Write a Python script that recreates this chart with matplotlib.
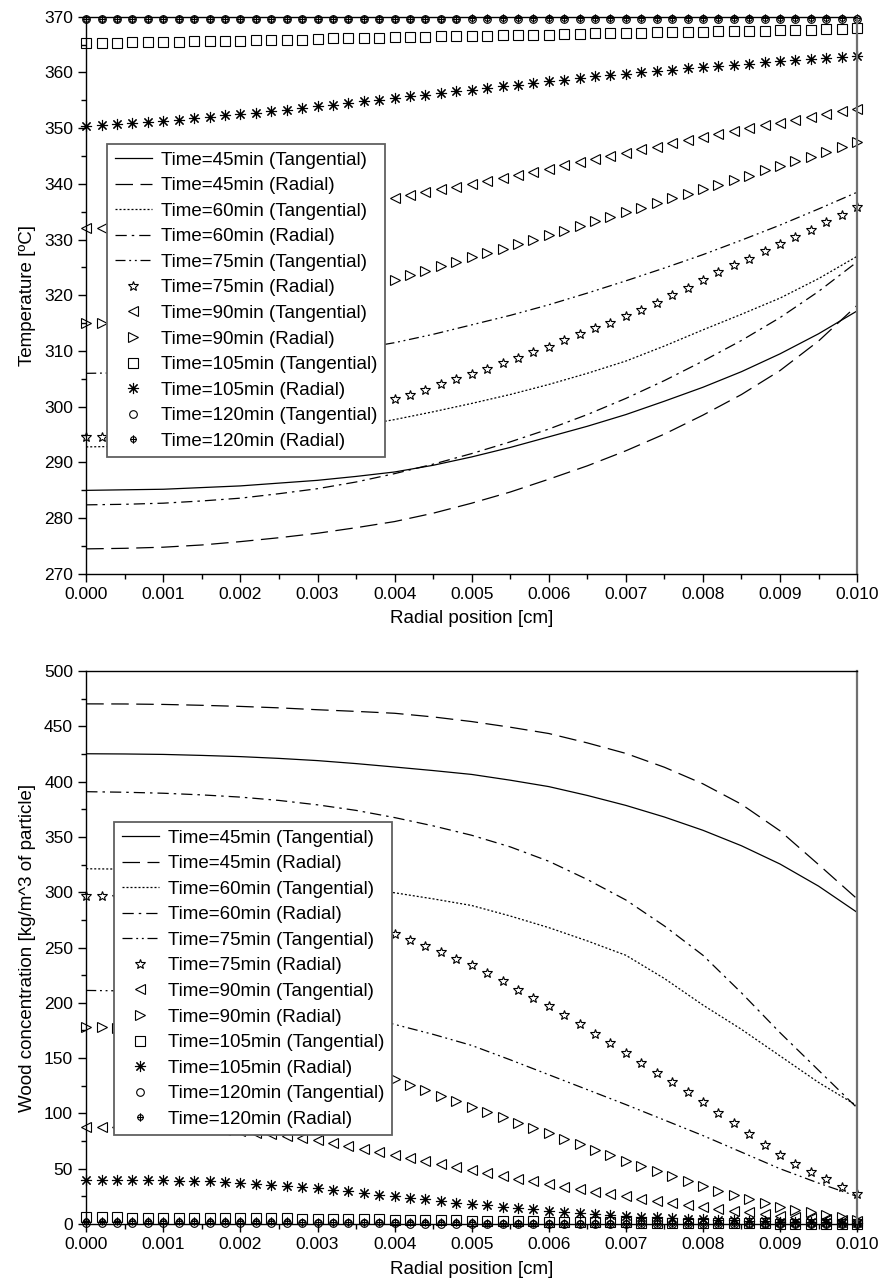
import numpy as np
import matplotlib
matplotlib.use("Agg")
import matplotlib.pyplot as plt
from matplotlib.path import Path
from matplotlib.ticker import MultipleLocator, FormatStrFormatter

plt.rcParams['font.family'] = ['Liberation Sans', 'DejaVu Sans']

# radial grid (cm): lines read every 0.0005, markers every 0.0002
x_line = np.linspace(0.0, 0.010, 21)
x_mark = np.linspace(0.0, 0.010, 51)

labels = ["Time=45min (Tangential)", "Time=45min (Radial)",
          "Time=60min (Tangential)", "Time=60min (Radial)",
          "Time=75min (Tangential)", "Time=75min (Radial)",
          "Time=90min (Tangential)", "Time=90min (Radial)",
          "Time=105min (Tangential)", "Time=105min (Radial)",
          "Time=120min (Tangential)", "Time=120min (Radial)"]

# ---------------- temperature [C] ----------------
T45t = [285.0, 285.1, 285.2, 285.5, 285.8, 286.3, 286.8, 287.5, 288.3, 289.5, 291.0,
        292.7, 294.6, 296.5, 298.6, 301.0, 303.5, 306.3, 309.5, 313.1, 317.2]
T45r = [274.5, 274.6, 274.8, 275.2, 275.8, 276.5, 277.3, 278.3, 279.4, 280.9, 282.7,
        284.7, 287.0, 289.4, 292.1, 295.1, 298.5, 302.2, 306.5, 311.8, 318.2]
T60t = [292.8, 292.9, 293.1, 293.5, 294.0, 294.7, 295.5, 296.5, 297.7, 299.1, 300.6,
        302.2, 304.0, 306.0, 308.2, 310.9, 313.8, 316.6, 319.5, 323.0, 327.0]
T60r = [282.4, 282.5, 282.7, 283.1, 283.6, 284.4, 285.3, 286.5, 288.0, 289.7, 291.6,
        293.7, 296.0, 298.6, 301.5, 304.7, 308.2, 311.9, 316.0, 320.7, 326.0]
T75t = [306.0, 306.1, 306.4, 306.9, 307.6, 308.4, 309.3, 310.3, 311.5, 313.0, 314.7,
        316.4, 318.3, 320.4, 322.6, 324.9, 327.3, 329.9, 332.6, 335.5, 338.5]
T75r = [294.6, 294.6, 294.7, 294.8, 294.9, 295.0, 295.2, 295.5, 295.8, 296.1, 296.4,
        296.8, 297.2, 297.6, 298.0, 298.4, 298.9, 299.5, 300.2, 300.8, 301.4,
        302.2, 303.0, 304.0, 304.9, 305.8, 306.8, 307.8, 308.8, 309.8, 310.8,
        311.9, 313.0, 314.1, 315.1, 316.2, 317.4, 318.7, 320.0, 321.4, 322.8,
        324.1, 325.4, 326.6, 327.9, 329.2, 330.5, 331.8, 333.2, 334.5, 335.8]
T90t = [332.0, 332.0, 332.1, 332.2, 332.3, 332.4, 332.6, 332.8, 333.0, 333.2, 333.4,
        333.7, 334.0, 334.4, 334.7, 335.1, 335.5, 336.0, 336.5, 337.0, 337.5,
        338.0, 338.5, 339.0, 339.5, 340.0, 340.5, 341.1, 341.6, 342.2, 342.7,
        343.3, 343.9, 344.4, 345.0, 345.6, 346.2, 346.7, 347.3, 347.8, 348.4,
        348.9, 349.5, 350.0, 350.5, 351.0, 351.5, 352.0, 352.5, 353.0, 353.5]
T90r = [315.1, 315.1, 315.2, 315.3, 315.4, 315.6, 315.8, 316.1, 316.4, 316.7, 317.0,
        317.4, 317.8, 318.3, 318.8, 319.3, 319.9, 320.6, 321.3, 322.0, 322.8,
        323.6, 324.4, 325.2, 326.0, 326.8, 327.6, 328.4, 329.2, 330.0, 330.8,
        331.6, 332.4, 333.3, 334.1, 334.9, 335.7, 336.5, 337.4, 338.2, 339.0,
        339.8, 340.7, 341.5, 342.4, 343.2, 344.1, 344.9, 345.8, 346.6, 347.5]
T105t = [365.2, 365.3, 365.3, 365.4, 365.4, 365.5, 365.5, 365.6, 365.6, 365.7, 365.7,
         365.8, 365.8, 365.9, 365.9, 366.0, 366.1, 366.1, 366.2, 366.2, 366.3,
         366.4, 366.4, 366.5, 366.5, 366.6, 366.6, 366.7, 366.7, 366.8, 366.8,
         366.9, 366.9, 367.0, 367.0, 367.1, 367.1, 367.2, 367.2, 367.3, 367.3,
         367.4, 367.4, 367.5, 367.5, 367.6, 367.7, 367.7, 367.8, 367.8, 367.9]
T105r = [350.4, 350.5, 350.7, 350.9, 351.1, 351.3, 351.5, 351.8, 352.0, 352.3, 352.5,
         352.8, 353.1, 353.3, 353.6, 353.9, 354.2, 354.5, 354.8, 355.1, 355.4,
         355.7, 356.0, 356.3, 356.6, 356.9, 357.2, 357.5, 357.8, 358.1, 358.4,
         358.7, 359.0, 359.3, 359.5, 359.8, 360.0, 360.3, 360.5, 360.8, 361.0,
         361.2, 361.4, 361.6, 361.8, 362.0, 362.2, 362.4, 362.5, 362.7, 362.9]
T120t = [369.5] * 25 + [369.6] * 26
T120r = [369.6] * 25 + [369.7] * 26

# ---------------- wood concentration [kg/m^3] ----------------
W45t = [425.2, 425.0, 424.6, 423.7, 422.6, 421.0, 419.0, 416.3, 413.2, 410.0, 406.5,
        401.3, 395.5, 387.5, 378.5, 368.0, 356.0, 342.0, 325.5, 305.5, 281.8]
W45r = [470.3, 470.2, 469.8, 469.0, 468.0, 466.7, 465.0, 463.5, 461.8, 458.5, 454.3,
        449.2, 443.5, 435.0, 425.5, 413.0, 398.0, 379.5, 355.5, 325.0, 294.0]
W60t = [321.2, 320.9, 320.0, 318.3, 316.0, 312.8, 309.0, 304.5, 299.5, 294.0, 288.0,
        278.5, 268.0, 256.0, 243.0, 222.0, 198.0, 176.0, 152.0, 128.0, 107.0]
W60r = [390.9, 390.4, 389.5, 388.0, 386.0, 383.0, 379.0, 374.0, 367.5, 360.0, 351.5,
        341.0, 328.0, 311.5, 293.0, 269.5, 243.0, 209.0, 173.0, 139.0, 105.0]
W75t = [211.2, 210.8, 210.0, 208.3, 206.0, 202.0, 197.0, 189.5, 180.5, 171.5, 161.5,
        148.5, 135.0, 121.5, 108.0, 94.0, 80.0, 65.0, 50.0, 37.0, 25.0]
W75r = [296.4, 296.3, 296.1, 295.8, 295.4, 295.0, 294.2, 293.1, 291.9, 290.7, 289.5,
        287.6, 285.5, 283.4, 281.2, 279.0, 275.8, 272.5, 269.1, 265.6, 262.0,
        256.8, 251.3, 245.6, 239.8, 234.0, 226.8, 219.5, 212.0, 204.5, 197.0,
        188.8, 180.5, 172.0, 163.5, 155.0, 146.0, 137.0, 128.0, 119.0, 110.0,
        100.5, 91.0, 81.2, 71.5, 62.0, 54.5, 47.3, 40.3, 33.5, 27.0]
W90t = [88.0, 88.0, 87.9, 87.8, 87.6, 87.4, 87.0, 86.4, 85.6, 84.8, 84.0,
        82.7, 81.1, 79.3, 77.7, 76.0, 73.4, 70.6, 67.8, 64.9, 62.0,
        59.3, 56.6, 53.9, 51.2, 48.5, 46.0, 43.5, 41.0, 38.5, 36.0,
        33.8, 31.6, 29.4, 27.2, 25.0, 23.0, 21.0, 19.0, 17.0, 15.0,
        13.5, 12.0, 10.5, 9.0, 7.5, 6.5, 5.5, 4.5, 3.5, 2.5]
W90r = [177.9, 177.8, 177.6, 177.3, 176.9, 176.5, 175.6, 174.3, 172.8, 171.2, 169.5,
        166.8, 163.9, 160.8, 157.5, 154.0, 149.7, 145.2, 140.6, 135.8, 131.0,
        126.0, 121.0, 116.0, 111.0, 106.0, 101.2, 96.4, 91.6, 86.8, 82.0,
        77.0, 72.0, 67.0, 62.0, 57.0, 52.4, 47.8, 43.2, 38.6, 34.0,
        30.2, 26.4, 22.6, 18.8, 15.0, 12.8, 10.6, 8.4, 6.2, 4.0]
W105t = [6.0, 6.0, 6.0, 5.9, 5.9, 5.9, 5.8, 5.8, 5.7, 5.7, 5.6,
         5.5, 5.3, 5.2, 5.0, 4.9, 4.7, 4.5, 4.4, 4.2, 4.0,
         3.8, 3.6, 3.4, 3.2, 3.0, 2.8, 2.6, 2.5, 2.3, 2.1,
         2.0, 1.8, 1.7, 1.5, 1.4, 1.3, 1.2, 1.0, 0.9, 0.8,
         0.7, 0.6, 0.6, 0.5, 0.4, 0.4, 0.3, 0.3, 0.2, 0.2]
W105r = [40.0, 40.0, 39.9, 39.8, 39.7, 39.6, 39.3, 38.9, 38.5, 38.0, 37.5,
         36.6, 35.6, 34.6, 33.6, 32.5, 31.0, 29.5, 28.0, 26.5, 25.0,
         23.6, 22.2, 20.8, 19.4, 18.0, 16.8, 15.6, 14.4, 13.2, 12.0,
         11.1, 10.2, 9.3, 8.4, 7.5, 6.8, 6.2, 5.6, 4.9, 4.3,
         3.9, 3.5, 3.0, 2.6, 2.2, 2.0, 1.7, 1.5, 1.2, 1.0]
W120t = [0.6] * 11 + [0.5] * 10 + [0.4] * 10 + [0.3] * 10 + [0.2] * 10
W120r = [2.5, 2.5, 2.5, 2.5, 2.5, 2.5, 2.5, 2.5, 2.4, 2.4, 2.4,
         2.4, 2.3, 2.3, 2.2, 2.2, 2.1, 2.0, 1.9, 1.9, 1.8,
         1.7, 1.6, 1.5, 1.5, 1.4, 1.3, 1.2, 1.2, 1.1, 1.0,
         1.0, 0.9, 0.9, 0.8, 0.8, 0.7, 0.7, 0.6, 0.6, 0.5,
         0.5, 0.5, 0.4, 0.4, 0.4, 0.3, 0.3, 0.3, 0.2, 0.2]

# circle with a cross through it, vertical bar sticking out
circ = Path.unit_circle()
oplus = Path(np.concatenate([circ.vertices, [[-1, 0], [1, 0], [0, -1.5], [0, 1.5]]]),
             np.concatenate([circ.codes, [Path.MOVETO, Path.LINETO, Path.MOVETO, Path.LINETO]]))

line_styles = ['-', (0, (14, 6)), (0, (1.6, 1.6)), (0, (9, 4, 2, 4)), (0, (8, 3, 1.5, 3, 1.5, 3))]
mark_styles = [('*', 7.5), ('<', 6.5), ('>', 6.5), ('s', 6.5), ((8, 2, 0), 8), ('o', 5.5), (oplus, 6)]


def draw(ax, lines, marks):
    for y, ls in zip(lines, line_styles):
        ax.plot(x_line, y, color='black', lw=0.9, linestyle=ls)
    for y, (m, ms) in zip(marks, mark_styles):
        ax.plot(x_mark, y, linestyle='none', marker=m, markersize=ms,
                markerfacecolor='none', markeredgecolor='black', markeredgewidth=0.8,
                color='black', clip_on=False)


def style(ax, ylo, yhi, major, ylabel):
    ax.set_xlim(0.0, 0.010)
    ax.set_ylim(ylo, yhi)
    ax.xaxis.set_major_locator(MultipleLocator(0.001))
    ax.xaxis.set_minor_locator(MultipleLocator(0.0005))
    ax.xaxis.set_major_formatter(FormatStrFormatter('%.3f'))
    ax.yaxis.set_major_locator(MultipleLocator(major))
    ax.yaxis.set_minor_locator(MultipleLocator(major / 2))
    ax.tick_params(which='major', direction='out', length=6, width=1, labelsize=12.5)
    ax.tick_params(which='minor', direction='out', length=3.5, width=1)
    ax.spines['right'].set_color('#707070')
    ax.spines['right'].set_linewidth(1.6)
    for s in ['top', 'left', 'bottom']:
        ax.spines[s].set_linewidth(1.0)
    ax.set_xlabel("Radial position [cm]", fontsize=13.5, labelpad=6)
    ax.set_ylabel(ylabel, fontsize=13.5, labelpad=6)


def add_legend(ax, left_px, top_px):
    leg = ax.legend(labels, loc='upper left', bbox_to_anchor=(left_px / 880, 1 - top_px / 1284),
                    bbox_transform=fig.transFigure, borderaxespad=0, fontsize=13.5,
                    frameon=True, fancybox=False, framealpha=1, edgecolor='#606060',
                    handlelength=2.0, handletextpad=0.5, labelspacing=0.45, borderpad=0.4)
    leg.get_frame().set_linewidth(1.3)
    leg.set_zorder(10)


fig = plt.figure(figsize=(8.8, 12.84), dpi=100)

ax1 = fig.add_axes([0.098, 0.553, 0.876, 0.434])
draw(ax1, [T45t, T45r, T60t, T60r, T75t], [T75r, T90t, T90r, T105t, T105r, T120t, T120r])
style(ax1, 270, 370, 10, "Temperature [ºC]")
add_legend(ax1, 107, 144)

ax2 = fig.add_axes([0.098, 0.0467, 0.876, 0.4307])
draw(ax2, [W45t, W45r, W60t, W60r, W75t], [W75r, W90t, W90r, W105t, W105r, W120t, W120r])
style(ax2, 0, 500, 50, "Wood concentration [kg/m^3 of particle]")
add_legend(ax2, 114, 822)

plt.savefig("out.png", dpi=100)
